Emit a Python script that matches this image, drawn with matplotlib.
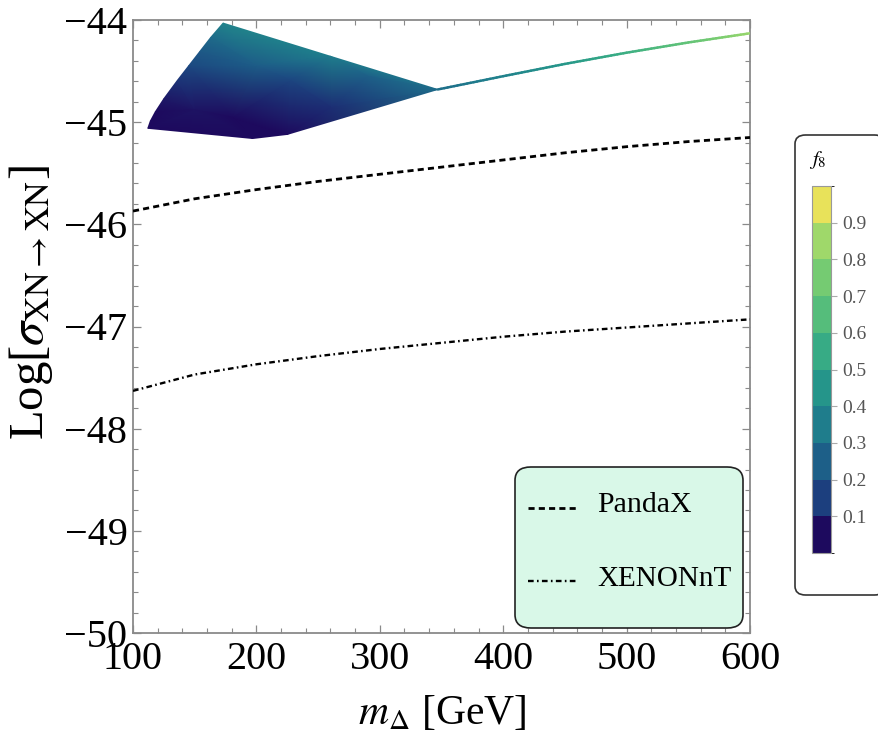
import numpy as np
import matplotlib
matplotlib.use("Agg")
import matplotlib.pyplot as plt
import matplotlib.tri as mtri
from matplotlib.colors import LinearSegmentedColormap, ListedColormap, BoundaryNorm
from matplotlib.collections import LineCollection
from matplotlib.patches import FancyBboxPatch
from matplotlib.lines import Line2D
from matplotlib.cm import ScalarMappable
from matplotlib.ticker import MultipleLocator

plt.rcParams["font.family"] = ["Liberation Serif", "DejaVu Serif"]
plt.rcParams["mathtext.fontset"] = "stix"

# ---- direct-detection limits ----
m_limit = [100, 150, 200, 250, 300, 350, 400, 450, 500, 550, 600]
pandax = [-45.87, -45.75, -45.66, -45.58, -45.51, -45.44, -45.37, -45.30, -45.24, -45.19, -45.15]
xenonnt = [-47.63, -47.47, -47.37, -47.29, -47.22, -47.16, -47.10, -47.05, -47.01, -46.97, -46.93]

# ---- allowed region: boundary samples, then interior samples, with f8 values ----
region_m = [112, 114, 118, 125, 136, 145, 154, 163, 173, 260, 347, 225, 197,
            150, 180, 200, 227, 260, 290]
region_logsigma = [-45.06, -44.99, -44.90, -44.77, -44.59, -44.45, -44.31, -44.17, -44.03,
                   -44.355, -44.68, -45.12, -45.16,
                   -44.88, -44.95, -44.45, -44.59, -44.85, -44.55]
region_f8 = [0.02, 0.03, 0.05, 0.08, 0.13, 0.18, 0.23, 0.29, 0.38,
             0.35, 0.30, 0.03, 0.01,
             0.07, 0.05, 0.24, 0.17, 0.12, 0.25]

# ---- thin branch continuing to heavy masses ----
tail_m = [347, 400, 450, 500, 550, 600]
tail_logsigma = [-44.68, -44.55, -44.43, -44.32, -44.22, -44.13]
tail_f8 = [0.30, 0.37, 0.46, 0.57, 0.69, 0.83]

# ---- colour scale ----
f8_levels = [0.0, 0.1, 0.2, 0.3, 0.4, 0.5, 0.6, 0.7, 0.8, 0.9, 1.0]
f8_ticks = [0.1, 0.2, 0.3, 0.4, 0.5, 0.6, 0.7, 0.8, 0.9]
f8_ticklabels = ["0.1", "0.2", "0.3", "0.4", "0.5", "0.6", "0.7", "0.8", "0.9"]
level_colors = ["#1d0a5e", "#1c3f7e", "#1d5f88", "#1f7d8c", "#25958a",
                "#37ab85", "#55bd7b", "#75cb72", "#9fd86a", "#e8e25a"]

x_ticks = [100, 200, 300, 400, 500, 600]
y_ticks = [-50, -49, -48, -47, -46, -45, -44]

anchors = [0.0] + [0.05 + 0.1 * i for i in range(10)] + [1.0]
cmap_cont = LinearSegmentedColormap.from_list(
    "f8", list(zip(anchors, [level_colors[0]] + level_colors + [level_colors[-1]])))
cmap_disc = ListedColormap(level_colors)

W, H = 879, 742
fig = plt.figure(figsize=(W / 100, H / 100), dpi=100)
ax = fig.add_axes([133 / W, 1 - 633 / H, 617 / W, 613 / H])

# region: Gouraud-shaded triangulation (Delaunay on rescaled coordinates)
rm = np.array(region_m, float)
rs = np.array(region_logsigma, float)
tri_scaled = mtri.Triangulation(rm / 100.0, rs)
tri = mtri.Triangulation(rm, rs, triangles=tri_scaled.triangles)
ax.tripcolor(tri, region_f8, shading="gouraud", cmap=cmap_cont, vmin=0, vmax=1, zorder=2)

# colour-graded branch
segs, cols = [], []
for i in range(len(tail_m) - 1):
    n = 20
    for k in range(n):
        t0, t1 = k / n, (k + 1) / n
        x0 = tail_m[i] + (tail_m[i + 1] - tail_m[i]) * t0
        x1 = tail_m[i] + (tail_m[i + 1] - tail_m[i]) * t1
        y0 = tail_logsigma[i] + (tail_logsigma[i + 1] - tail_logsigma[i]) * t0
        y1 = tail_logsigma[i] + (tail_logsigma[i + 1] - tail_logsigma[i]) * t1
        segs.append([(x0, y0), (x1, y1)])
        cols.append(tail_f8[i] + (tail_f8[i + 1] - tail_f8[i]) * (t0 + t1) / 2)
lc = LineCollection(segs, cmap=cmap_cont, norm=plt.Normalize(0, 1), linewidths=1.8,
                    capstyle="round", zorder=3)
lc.set_array(np.array(cols))
ax.add_collection(lc)

# experimental limits
pandax_ls = (0, (2.2, 1.5))
xenon_ls = (0, (2.4, 1.4, 0.7, 1.4))
ax.plot(m_limit, pandax, color="black", lw=2.0, ls=pandax_ls, zorder=3)
ax.plot(m_limit, xenonnt, color="black", lw=1.7, ls=xenon_ls, zorder=3)

ax.set_xlim(100, 600)
ax.set_ylim(-50, -44)
ax.set_xticks(x_ticks)
ax.set_yticks(y_ticks)
ax.xaxis.set_minor_locator(MultipleLocator(20))
ax.yaxis.set_minor_locator(MultipleLocator(0.2))
frame_col = "#8a8a8a"
for s in ax.spines.values():
    s.set_color(frame_col)
    s.set_linewidth(1.3)
ax.tick_params(which="both", direction="in", top=True, right=True, color=frame_col,
               labelsize=29)
ax.tick_params(which="major", length=6, width=0.9)
ax.tick_params(which="minor", length=3.5, width=0.8)
ax.tick_params(axis="x", pad=6)
ax.tick_params(axis="y", pad=4)

fig.text(31 / W, 1 - 302 / H, r"Log[$\sigma_{\mathrm{XN}\rightarrow\mathrm{XN}}$]",
         rotation=90, ha="center", va="center", fontsize=35)
fig.text(442 / W, 1 - 714 / H, r"$m_{\Delta}$ [GeV]", ha="center", va="center",
         fontsize=30)

# legend box
leg_box = FancyBboxPatch((515 / W, 1 - 628 / H), 228 / W, 161 / H,
                         boxstyle="round,pad=0,rounding_size=0.018",
                         transform=fig.transFigure, fc="#d9f8e8", ec="#222222",
                         lw=1.2, zorder=5)
fig.add_artist(leg_box)
fig.add_artist(Line2D([528 / W, 578 / W], [1 - 508 / H] * 2, transform=fig.transFigure,
                      color="black", lw=2.0, ls=pandax_ls, zorder=6))
fig.add_artist(Line2D([528 / W, 578 / W], [1 - 581 / H] * 2, transform=fig.transFigure,
                      color="black", lw=1.7, ls=xenon_ls, zorder=6))
fig.text(597 / W, 1 - 505 / H, "PandaX", ha="left", va="center", fontsize=21.5, zorder=6)
fig.text(597 / W, 1 - 579 / H, "XENONnT", ha="left", va="center", fontsize=21, zorder=6)

# colour bar with its framed box
cb_box = FancyBboxPatch((795 / W, 1 - 595 / H), 90 / W, 460 / H,
                        boxstyle="round,pad=0,rounding_size=0.012",
                        transform=fig.transFigure, fc="white", ec="#333333",
                        lw=1.2, zorder=-1)
fig.add_artist(cb_box)
cax = fig.add_axes([812 / W, 1 - 553 / H, 19 / W, 367 / H])
sm = ScalarMappable(norm=BoundaryNorm(f8_levels, len(level_colors)), cmap=cmap_disc)
cb = fig.colorbar(sm, cax=cax, ticks=f8_ticks)
cb.set_ticklabels(f8_ticklabels)
cb.outline.set_edgecolor("#999999")
cb.outline.set_linewidth(0.8)
cax.tick_params(labelsize=14, labelcolor="#555555", color="#aaaaaa", length=4,
                width=0.8, pad=4)
fig.text(818 / W, 1 - 160 / H, r"$f_{8}$", ha="center", va="center", fontsize=15)

fig.savefig("out.png", dpi=100)
